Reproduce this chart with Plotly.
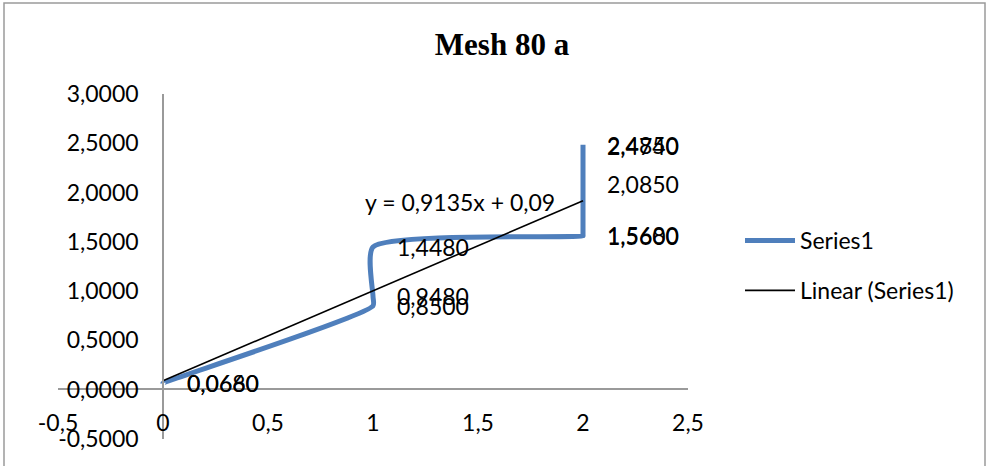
import plotly.graph_objects as go

# ---- data -------------------------------------------------------------
title_text = "Mesh 80 a"
series_name = "Series1"
trend_name = "Linear (Series1)"

x_vals = [0, 0, 1, 1, 1, 2, 2, 2, 2, 2]
y_vals = [0.066, 0.068, 0.850, 0.948, 1.448, 1.560, 1.568, 2.085, 2.474, 2.485]

# linear trendline coefficients
trend_slope = 0.9135
trend_intercept = 0.09
trend_x = [0, 2]

x_tick_vals = [-0.5, 0, 0.5, 1, 1.5, 2, 2.5]
x_tick_text = ["-0,5", "0", "0,5", "1", "1,5", "2", "2,5"]
y_tick_vals = [-0.5, 0, 0.5, 1.0, 1.5, 2.0, 2.5, 3.0]
y_tick_text = ["-0,5000", "0,0000", "0,5000", "1,0000", "1,5000",
               "2,0000", "2,5000", "3,0000"]

# ---- layout geometry (pixels) ------------------------------------------
W, H = 988, 466
L, R, T, B = 58, 300, 94, 27
PW, PH = W - L - R, H - T - B


def px_x(p):
    return (p - L) / PW


def px_y(p):
    return (H - B - p) / PH


def comma(v, nd):
    return f"{v:.{nd}f}".replace(".", ",")


LABEL_FONT = dict(family="Lato, Carlito, Calibri, sans-serif", size=23, color="#000000")
BLUE = "#4F7FBC"

trend_y = [trend_slope * xv + trend_intercept for xv in trend_x]

fig = go.Figure()
fig.add_trace(go.Scatter(
    x=x_vals, y=y_vals, mode="lines", name=series_name,
    line=dict(color=BLUE, width=5, shape="spline", smoothing=0.6),
    legendgroup="a",
))
fig.add_trace(go.Scatter(
    x=trend_x, y=trend_y, mode="lines", name=trend_name,
    line=dict(color="#000000", width=1.6),
    legendgroup="b",
))

# data labels to the right of each point
annotations = []
for xv, yv in zip(x_vals, y_vals):
    annotations.append(dict(
        x=xv, y=yv, xref="x", yref="y", text=comma(yv, 4),
        showarrow=False, xanchor="left", yanchor="middle", xshift=22,
        font=LABEL_FONT,
    ))

# trendline equation
eq_text = f"y = {comma(trend_slope, 4)}x + {comma(trend_intercept, 2)}"
annotations.append(dict(
    x=0.952, y=1.905, xref="x", yref="y", text=eq_text,
    showarrow=False, xanchor="left", yanchor="middle", font=LABEL_FONT,
))

fig.update_layout(
    width=W, height=H,
    margin=dict(l=L, r=R, t=T, b=B),
    paper_bgcolor="#ffffff", plot_bgcolor="rgba(0,0,0,0)",
    title=dict(
        text=f"<b>{title_text}</b>", x=502 / W, xref="container", xanchor="center",
        y=1 - 44 / H, yref="container", yanchor="middle",
        font=dict(family="Liberation Serif, Times New Roman, serif", size=31, color="#000000"),
    ),
    xaxis=dict(
        range=[-0.5, 2.5], tickvals=x_tick_vals, ticktext=x_tick_text,
        showgrid=False, zeroline=False, showline=True, linecolor="#9a9a9a", linewidth=1.5,
        ticks="", anchor="free", position=px_y(389), ticklabelstandoff=14,
        tickfont=LABEL_FONT,
    ),
    yaxis=dict(
        range=[-0.5, 3.0], tickvals=y_tick_vals, ticktext=y_tick_text,
        showgrid=False, zeroline=False, showline=True, linecolor="#9a9a9a", linewidth=1.5,
        ticks="", anchor="free", position=px_x(163), ticklabelstandoff=19,
        tickfont=LABEL_FONT,
    ),
    showlegend=True,
    legend=dict(
        x=px_x(740), y=px_y(219), xanchor="left", yanchor="top",
        font=LABEL_FONT, bgcolor="rgba(0,0,0,0)", tracegroupgap=17,
        itemwidth=50,
    ),
    annotations=annotations,
    shapes=[dict(
        type="rect", xref="paper", yref="paper",
        x0=px_x(4), x1=px_x(985), y0=px_y(470), y1=px_y(3),
        line=dict(color="#9a9a9a", width=1.5), fillcolor="rgba(0,0,0,0)", layer="below",
    )],
)

fig.write_html("out.html")
